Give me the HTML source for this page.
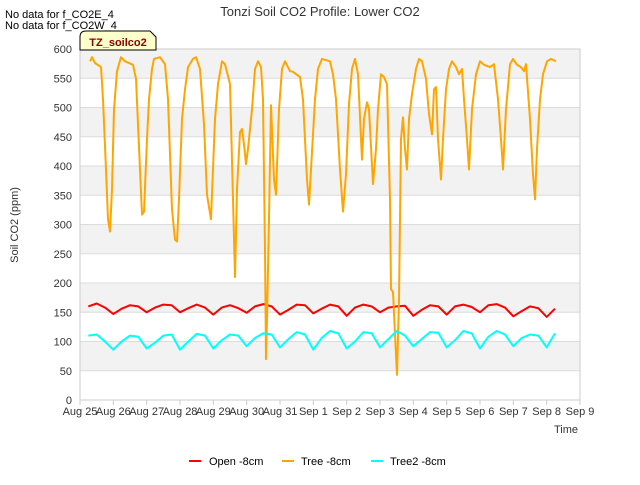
<!DOCTYPE html>
<html><head><meta charset="utf-8"><style>
body{margin:0;background:#fff;font-family:"Liberation Sans",sans-serif}
svg text{font-family:"Liberation Sans",sans-serif}
</style></head><body>
<svg id="chart" width="640" height="480" xmlns="http://www.w3.org/2000/svg">
<rect width="640" height="480" fill="#fff"/>
<text x="320" y="16" text-anchor="middle" font-size="13" fill="#333">Tonzi Soil CO2 Profile: Lower CO2</text>
<text x="5" y="18" font-size="11" fill="#000">No data for f_CO2E_4</text>
<text x="5" y="29" font-size="11" fill="#000">No data for f_CO2W_4</text>
<g id="plot"></g>
<g>
<path d="M80,50 L80,37 Q80,31 86,31 L150,31 L156,37 L156,50 Z" fill="#ffffcc" stroke="#000" stroke-width="1"/>
<text x="118" y="46" text-anchor="middle" font-size="11" font-weight="bold" fill="#8b0000">TZ_soilco2</text>
</g>
<text transform="translate(18,225) rotate(-90)" text-anchor="middle" font-size="11" fill="#333">Soil CO2 (ppm)</text>
<text x="566" y="433" text-anchor="middle" font-size="11" fill="#333">Time</text>
<g>
<g><line x1="189" y1="461" x2="201" y2="461" stroke="#ff0000" stroke-width="2"/><text x="209" y="465" font-size="11" fill="#000">Open -8cm</text></g>
<g><line x1="282" y1="461" x2="294" y2="461" stroke="#ffa500" stroke-width="2"/><text x="301" y="465" font-size="11" fill="#000">Tree -8cm</text></g>
<g><line x1="371" y1="461" x2="383" y2="461" stroke="#00ffff" stroke-width="2"/><text x="390" y="465" font-size="11" fill="#000">Tree2 -8cm</text></g>
</g>
</svg>
<script>
const xTickLabels=["Aug 25","Aug 26","Aug 27","Aug 28","Aug 29","Aug 30","Aug 31","Sep 1","Sep 2","Sep 3","Sep 4","Sep 5","Sep 6","Sep 7","Sep 8","Sep 9"];
const yTicks=[0,50,100,150,200,250,300,350,400,450,500,550,600];
const treeDays=[0.30,0.36,0.45,0.63,0.69,0.78,0.84,0.90,0.96,1.02,1.11,1.23,1.35,1.59,1.68,1.80,1.86,1.92,2.01,2.07,2.16,2.22,2.40,2.55,2.64,2.76,2.85,2.91,2.97,3.06,3.15,3.24,3.39,3.48,3.60,3.72,3.81,3.93,4.05,4.14,4.26,4.35,4.50,4.59,4.65,4.71,4.80,4.86,4.92,4.98,5.04,5.16,5.25,5.34,5.43,5.49,5.55,5.58,5.61,5.67,5.73,5.82,5.88,5.97,6.06,6.15,6.30,6.39,6.60,6.69,6.81,6.87,6.93,7.05,7.14,7.26,7.50,7.59,7.68,7.80,7.89,7.98,8.07,8.16,8.25,8.34,8.46,8.52,8.61,8.67,8.79,8.88,8.94,9.03,9.12,9.21,9.30,9.33,9.39,9.48,9.51,9.57,9.63,9.69,9.75,9.81,9.87,9.96,10.08,10.17,10.26,10.38,10.47,10.56,10.62,10.68,10.74,10.83,10.89,10.98,11.07,11.16,11.28,11.37,11.46,11.52,11.61,11.67,11.76,11.88,12.00,12.12,12.30,12.42,12.54,12.63,12.69,12.78,12.90,12.99,13.11,13.23,13.32,13.38,13.50,13.59,13.65,13.71,13.80,13.89,14.01,14.13,14.28];
const treeValues=[579,586,576,569,514,394,309,288,360,497,562,586,579,573,549,394,317,322,446,514,566,583,586,574,514,326,274,271,343,480,531,569,583,586,566,471,351,309,480,540,579,574,540,343,210,360,458,463,437,403,429,497,566,579,569,514,257,70,137,309,504,377,351,497,566,579,562,561,552,514,377,334,394,514,566,583,579,557,514,394,322,386,506,566,583,557,411,480,509,497,369,429,497,557,552,540,343,189,185,77,43,171,446,483,429,394,480,523,566,583,579,549,489,454,531,535,446,377,446,531,566,579,569,557,566,514,446,394,497,557,579,573,569,574,514,446,394,497,574,583,573,569,562,574,480,386,343,429,514,557,579,583,579];
const lowDays=[0.25,0.5,0.75,1,1.25,1.5,1.75,2,2.25,2.5,2.75,3,3.25,3.5,3.75,4,4.25,4.5,4.75,5,5.25,5.5,5.75,6,6.25,6.5,6.75,7,7.25,7.5,7.75,8,8.25,8.5,8.75,9,9.25,9.5,9.75,10,10.25,10.5,10.75,11,11.25,11.5,11.75,12,12.25,12.5,12.75,13,13.25,13.5,13.75,14,14.25];
const openValues=[160,165,158,147,156,162,160,150,158,163,162,150,157,163,158,146,158,162,157,149,160,164,160,146,154,163,162,148,156,163,160,144,158,163,160,150,158,160,161,144,154,162,160,146,160,163,159,150,162,164,158,143,152,160,157,142,156];
const tree2Values=[110,112,100,86,100,110,108,88,98,110,112,86,100,113,110,88,102,112,110,92,106,114,112,90,104,116,112,86,106,118,114,88,100,116,114,90,104,118,110,92,104,116,115,90,102,118,114,88,108,118,112,92,106,112,110,90,114];
const NS="http://www.w3.org/2000/svg";
const L=80,R=580,T=49,B=400;
const xs=d=>L+d*(R-L)/15;
const ys=v=>B-v*(B-T)/600;
const plot=document.getElementById('plot');
function mk(tag,attrs){const e=document.createElementNS(NS,tag);for(const k in attrs)e.setAttribute(k,attrs[k]);plot.appendChild(e);return e;}
for(let i=0;i<yTicks.length-1;i++){
  if(i%2===1){const r=mk('rect',{x:L,y:ys(yTicks[i+1]),width:R-L,height:ys(yTicks[i])-ys(yTicks[i+1]),fill:'#f2f2f2'});
  
  }
}
yTicks.forEach(v=>{
  const g=mk('line',{x1:L,x2:R,y1:ys(v),y2:ys(v),stroke:'#dcdcdc','stroke-width':1});
  
  
  const t=mk('text',{x:L-8,y:ys(v)+4,'text-anchor':'end','font-size':11,fill:'#333'});
  t.textContent=v;
  
  
});
const fr=mk('rect',{x:L,y:T,width:R-L,height:B-T,fill:'none',stroke:'#ccc','stroke-width':1});


xTickLabels.forEach((s,i)=>{
  const tk=mk('line',{x1:xs(i),x2:xs(i),y1:B,y2:B+5,stroke:'#ccc'});
  
  
  const t=mk('text',{x:xs(i),y:B+15,'text-anchor':'middle','font-size':11,fill:'#333'});
  t.textContent=s;
  
  
});
function line(days,vals,color,name){
  const d=days.map((t,i)=>(i?'L':'M')+xs(t).toFixed(1)+','+ys(vals[i]).toFixed(1)).join(' ');
  const p=mk('path',{d:d,fill:'none',stroke:color,'stroke-width':2,'stroke-linejoin':'round'});
  
  
}
line(lowDays,openValues,'#ff0000','open-8cm-line');
line(treeDays,treeValues,'#ffa500','tree-8cm-line');
line(lowDays,tree2Values,'#00ffff','tree2-8cm-line');
</script>
</body></html>
